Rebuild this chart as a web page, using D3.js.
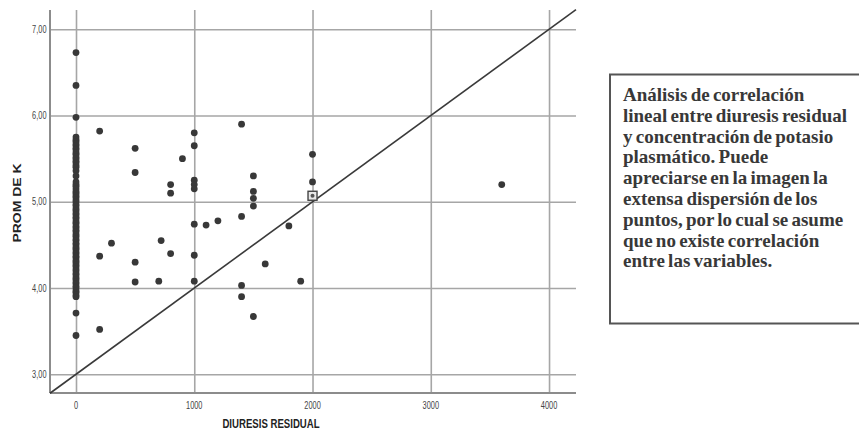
<!DOCTYPE html>
<html><head><meta charset="utf-8">
<script src="https://cdn.jsdelivr.net/npm/d3@7"></script>
<style>html,body{margin:0;padding:0;background:#fff;overflow:hidden}</style>
</head><body><svg id="c" width="859" height="434"></svg>
<script>
// ---- data ----
const xTickValues = [0, 1000, 2000, 3000, 4000];
const yTickValues = [3, 4, 5, 6, 7];
const xTitle = "DIURESIS RESIDUAL";
const yTitle = "PROM DE K";
// patients with diuresis residual = 0
const kAtZero = [6.73, 6.35, 5.98,
  5.75, 5.72, 5.70, 5.67, 5.65, 5.62, 5.60, 5.57, 5.55, 5.52, 5.50, 5.47, 5.45, 5.42, 5.40,
  5.36, 5.30,
  5.23, 5.20, 5.18, 5.15, 5.12, 5.10, 5.07, 5.05, 5.02, 5.00, 4.97, 4.95, 4.92, 4.90, 4.87,
  4.85, 4.82, 4.80, 4.77, 4.75, 4.72, 4.70, 4.67, 4.65, 4.62, 4.60, 4.57, 4.55, 4.52, 4.50,
  4.47, 4.45, 4.42, 4.40, 4.37, 4.35, 4.32, 4.30, 4.27, 4.25, 4.22, 4.20, 4.17, 4.15, 4.12,
  4.10, 4.07, 4.05, 4.02, 4.00, 3.97, 3.95, 3.92, 3.90,
  3.71, 3.45];
// patients with diuresis residual > 0
const diuresis = [200, 200, 200, 300, 500, 500, 500, 500, 700, 720, 800, 800, 800, 900,
  1000, 1000, 1000, 1000, 1000, 1000, 1000, 1000, 1100, 1200,
  1400, 1400, 1400, 1400, 1500, 1500, 1500, 1500, 1500, 1600, 1800, 1900, 2000, 2000, 3600];
const potasio = [5.82, 4.37, 3.52, 4.52, 5.62, 5.34, 4.30, 4.07, 4.08, 4.55, 5.20, 5.10, 4.40, 5.50,
  5.80, 5.65, 5.25, 5.20, 5.15, 4.74, 4.38, 4.08, 4.73, 4.78,
  5.90, 4.83, 4.03, 3.90, 5.30, 5.12, 5.04, 4.95, 3.67, 4.28, 4.72, 4.08, 5.55, 5.23, 5.20];
const markedPoint = [2000, 5.07];
const refIntercept = 3, refSlope = 0.001;
const noteLines = ["Análisis de correlación", "lineal entre diuresis residual",
  "y concentración de potasio", "plasmático. Puede", "apreciarse en la imagen la",
  "extensa dispersión de los", "puntos, por lo cual se asume", "que no existe correlación",
  "entre las variables."];

// ---- chart ----
const svg = d3.select("#c");
const pL = 50, pR = 576, pT = 10, pB = 393;
const x = d3.scaleLinear().domain([-219.9, 4228]).range([pL, pR]);
const y = d3.scaleLinear().domain([2.783, 7.224]).range([pB, pT]);
const fmt = d3.formatLocale({decimal: ",", thousands: ".", grouping: [3], currency: ["", ""]}).format(".2f");
const sx = 0.74;

// gridlines
const gx = svg.append("g").attr("transform", `translate(0,${pB})`)
  .call(d3.axisBottom(x).tickValues(xTickValues).tickSize(-(pB - pT)).tickFormat(""));
const gy = svg.append("g").attr("transform", `translate(${pL},0)`)
  .call(d3.axisLeft(y).tickValues(yTickValues).tickSize(-(pR - pL)).tickFormat(""));
[gx, gy].forEach(g => {
  g.select(".domain").remove();
  g.selectAll(".tick line").attr("stroke", "#a6a6a6").attr("stroke-width", 1.6);
});
// axis lines
svg.append("line").attr("x1", pL).attr("x2", pR).attr("y1", pB).attr("y2", pB)
  .attr("stroke", "#8c8c8c").attr("stroke-width", 2);
svg.append("line").attr("x1", pL).attr("x2", pL).attr("y1", pT).attr("y2", pB)
  .attr("stroke", "#8c8c8c").attr("stroke-width", 2);

// tick labels
svg.append("g").selectAll("g").data(xTickValues).join("g")
  .attr("transform", d => `translate(${x(d)},409)`)
  .append("text").attr("transform", `scale(${sx},1)`).attr("text-anchor", "middle")
  .attr("font-family", "Liberation Sans, Arial, sans-serif").attr("font-size", 10)
  .attr("fill", "#444").text(d => d3.format("d")(d));
svg.append("g").selectAll("g").data(yTickValues).join("g")
  .attr("transform", d => `translate(46.5,${y(d)})`)
  .append("text").attr("transform", `scale(${sx},1)`).attr("text-anchor", "end").attr("dy", "0.35em")
  .attr("font-family", "Liberation Sans, Arial, sans-serif").attr("font-size", 10)
  .attr("fill", "#444").text(d => fmt(d));

// axis titles
svg.append("g").attr("transform", "translate(271,428)")
  .append("text").attr("transform", `scale(${sx},1)`).attr("text-anchor", "middle")
  .attr("font-family", "Liberation Sans, Arial, sans-serif").attr("font-weight", "bold")
  .attr("font-size", 13).attr("fill", "#222").text(xTitle);
svg.append("g").attr("transform", "translate(21,203) rotate(-90)")
  .append("text").attr("transform", `scale(1,${sx})`).attr("text-anchor", "middle")
  .attr("font-family", "Liberation Sans, Arial, sans-serif").attr("font-weight", "bold")
  .attr("font-size", 14).attr("fill", "#222").text(yTitle);

// reference line
const xd = x.domain();
svg.append("line")
  .attr("x1", x(xd[0])).attr("y1", y(refIntercept + refSlope * xd[0]))
  .attr("x2", x(xd[1])).attr("y2", y(refIntercept + refSlope * xd[1]))
  .attr("stroke", "#3a3a3a").attr("stroke-width", 1.6);

// points
const pts = kAtZero.map(k => [0, k]).concat(diuresis.map((d, i) => [d, potasio[i]]));
svg.append("g").selectAll("circle").data(pts).join("circle")
  .attr("cx", d => x(d[0])).attr("cy", d => y(d[1])).attr("r", 3.4).attr("fill", "#383838");

// marked point (square)
svg.append("rect").attr("x", x(markedPoint[0]) - 4.5).attr("y", y(markedPoint[1]) - 4.5)
  .attr("width", 9).attr("height", 9).attr("fill", "#e8e8e8").attr("stroke", "#444").attr("stroke-width", 1.4);
svg.append("circle").attr("cx", x(markedPoint[0])).attr("cy", y(markedPoint[1])).attr("r", 2)
  .attr("fill", "#555");

// note box
svg.append("rect").attr("x", 610).attr("y", 74.5).attr("width", 260).attr("height", 249)
  .attr("fill", "#fff").attr("stroke", "#555").attr("stroke-width", 2);
svg.append("g").selectAll("text").data(noteLines).join("text")
  .attr("x", 623).attr("y", (d, i) => 101 + i * 20.8)
  .attr("font-family", "Liberation Serif, Times New Roman, serif").attr("font-weight", "bold")
  .attr("font-size", 19).attr("fill", "#383838").attr("word-spacing", -1.5).text(d => d);
</script></body></html>
